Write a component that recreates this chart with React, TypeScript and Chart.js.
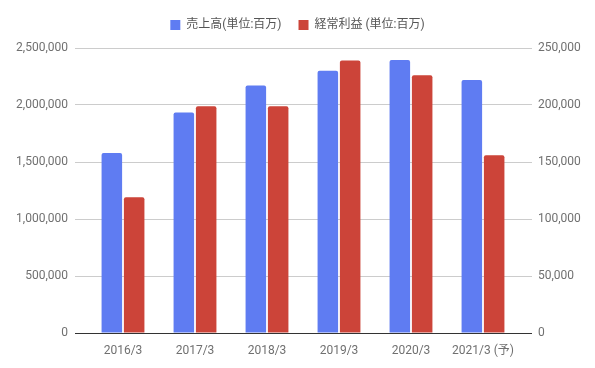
import React, { useEffect, useRef } from "react";
import { Chart, registerables } from "chart.js";

Chart.register(...registerables);

const categories = ["2016/3", "2017/3", "2018/3", "2019/3", "2020/3", "2021/3 (予)"];
const salesLabel = "売上高(単位:百万)";
const profitLabel = "経常利益 (単位:百万)";
const salesValues = [1580000, 1935000, 2170000, 2300000, 2395000, 2220000];
const profitValues = [119000, 199000, 199000, 239000, 226000, 156000];

const FONT = "Roboto, 'Noto Sans CJK JP', sans-serif";

const legendGapPlugin = {
  id: "legendGap",
  beforeLayout(chart: any) {
    const lg = chart.legend;
    if (lg && !lg.__patched) {
      const orig = lg.fit;
      lg.fit = function () {
        orig.call(this);
        this.height += 7;
      };
      lg.__patched = true;
    }
  },
};

export default function App() {
  const ref = useRef<HTMLCanvasElement | null>(null);
  useEffect(() => {
    if (!ref.current) return;
    const fmt = (v: any) => Number(v).toLocaleString("en-US");
    const gridColor = (ctx: any) => (ctx.tick && ctx.tick.value === 0 ? "#333333" : "#cccccc");
    const chart = new Chart(ref.current, {
      type: "bar",
      data: {
        labels: categories,
        datasets: [
          {
            label: salesLabel,
            data: salesValues,
            backgroundColor: "#5f7cf2",
            borderRadius: 2,
            borderSkipped: "bottom",
            yAxisID: "y",
            categoryPercentage: 0.62,
            barPercentage: 0.92,
          },
          {
            label: profitLabel,
            data: profitValues,
            backgroundColor: "#cc4439",
            borderRadius: 2,
            borderSkipped: "bottom",
            yAxisID: "y1",
            categoryPercentage: 0.62,
            barPercentage: 0.92,
          },
        ],
      },
      plugins: [legendGapPlugin],
      options: {
        animation: false,
        responsive: false,
        layout: { padding: { top: 2, left: 0, right: 0, bottom: 0 } },
        plugins: {
          legend: {
            position: "top",
            align: "center",
            labels: {
              boxWidth: 10,
              boxHeight: 10,
              padding: 17,
              color: "#555555",
              font: { family: FONT, size: 12 },
            },
          },
          tooltip: { enabled: false },
        },
        scales: {
          x: {
            offset: true,
            grid: { display: false },
            border: { display: true, color: "#333333", width: 1 },
            ticks: { color: "#707070", font: { family: FONT, size: 12 }, padding: 3, maxRotation: 0 },
            afterFit: (s: any) => {
              s.height = 35;
            },
          },
          y: {
            position: "left",
            min: 0,
            max: 2500000,
            border: { display: false },
            grid: { color: gridColor, tickColor: gridColor, tickLength: 12, lineWidth: 1 },
            ticks: { stepSize: 500000, color: "#707070", font: { family: FONT, size: 12 }, padding: 7, callback: fmt },
            afterFit: (s: any) => {
              s.width = 87;
            },
          },
          y1: {
            position: "right",
            min: 0,
            max: 250000,
            border: { display: false },
            grid: { drawOnChartArea: false, tickColor: gridColor, tickLength: 13, lineWidth: 1 },
            ticks: { stepSize: 50000, color: "#707070", font: { family: FONT, size: 12 }, padding: 6, callback: fmt },
            afterFit: (s: any) => {
              s.width = 76;
            },
          },
        },
      },
    } as any);
    return () => chart.destroy();
  }, []);
  return (
    <div style={{ position: "fixed", left: 0, top: 0, width: 595, height: 368, background: "#ffffff" }}>
      <canvas ref={ref} width={595} height={368} style={{ width: 595, height: 368, display: "block" }} />
    </div>
  );
}
